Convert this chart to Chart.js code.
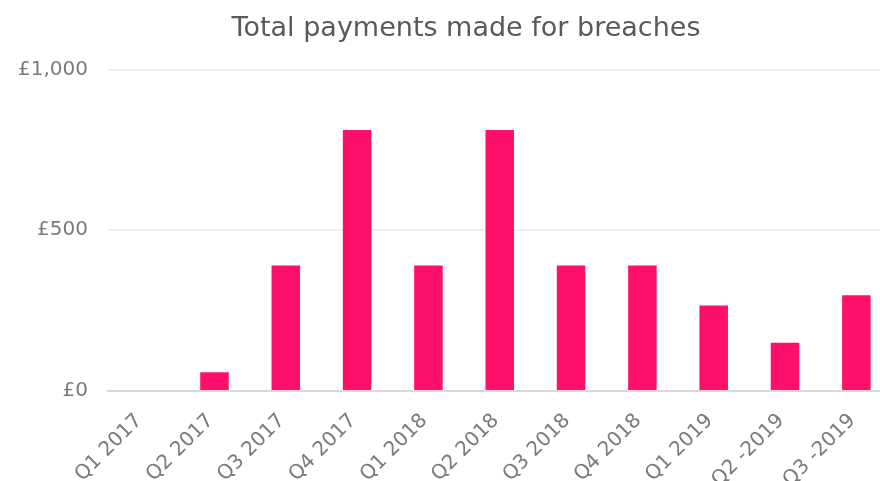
<!DOCTYPE html>
<html>
<head>
<meta charset="utf-8">
<script src="https://cdn.jsdelivr.net/npm/chart.js@4/dist/chart.umd.min.js"></script>
<style>
  html, body { margin: 0; padding: 0; background: #ffffff; overflow: hidden; width: 880px; height: 481px; }
  #wrap { width: 932px; height: 481px; }
</style>
</head>
<body>
<div id="wrap"><canvas id="c" width="932" height="481"></canvas></div>
<script>
const categories = ['Q1 2017', 'Q2 2017', 'Q3 2017', 'Q4 2017', 'Q1 2018', 'Q2 2018', 'Q3 2018', 'Q4 2018', 'Q1 2019', 'Q2 -2019', 'Q3 -2019'];
const payments = [0, 58, 390, 812, 390, 812, 390, 390, 266, 150, 298];
const yTicks = [0, 500, 1000];
const chartTitle = 'Total payments made for breaches';

const FONT = 'DejaVu Sans';

new Chart(document.getElementById('c'), {
  type: 'bar',
  data: {
    labels: categories,
    datasets: [{
      data: payments,
      backgroundColor: '#FC106A',
      borderWidth: 0,
      barPercentage: 0.4,
      categoryPercentage: 1.0
    }]
  },
  options: {
    responsive: false,
    animation: false,
    devicePixelRatio: 1,
    layout: { padding: 0 },
    plugins: {
      legend: { display: false },
      tooltip: { enabled: false },
      title: {
        display: true,
        text: chartTitle,
        color: '#595959',
        font: { family: FONT, size: 27, weight: 'normal' },
        padding: { top: 13, bottom: 24.1 }
      }
    },
    scales: {
      x: {
        grid: { display: false, drawTicks: false },
        border: { display: true, color: '#d9d9d9', width: 2 },
        ticks: {
          color: '#7a7a7a',
          font: { family: FONT, size: 20 },
          maxRotation: 45,
          minRotation: 45,
          padding: 18,
          labelOffset: -4,
          autoSkip: false
        },
        afterFit: (s) => { s.height = 90; }
      },
      y: {
        min: 0,
        max: 1000,
        afterBuildTicks: (s) => { s.ticks = yTicks.map(v => ({ value: v })); },
        grid: { color: '#efefef', lineWidth: 2, drawTicks: false },
        border: { display: false },
        ticks: {
          color: '#7a7a7a',
          font: { family: FONT, size: 20 },
          padding: 19.5,
          callback: (v) => '£' + Number(v).toLocaleString('en-GB')
        },
        afterFit: (s) => { s.width = 107.5; }
      },
      spacer: {
        type: 'linear',
        position: 'right',
        display: true,
        grid: { display: false, drawTicks: false },
        border: { display: false },
        ticks: { display: false },
        afterFit: (s) => { s.width = 40; }
      }
    }
  }
});
</script>
</body>
</html>
